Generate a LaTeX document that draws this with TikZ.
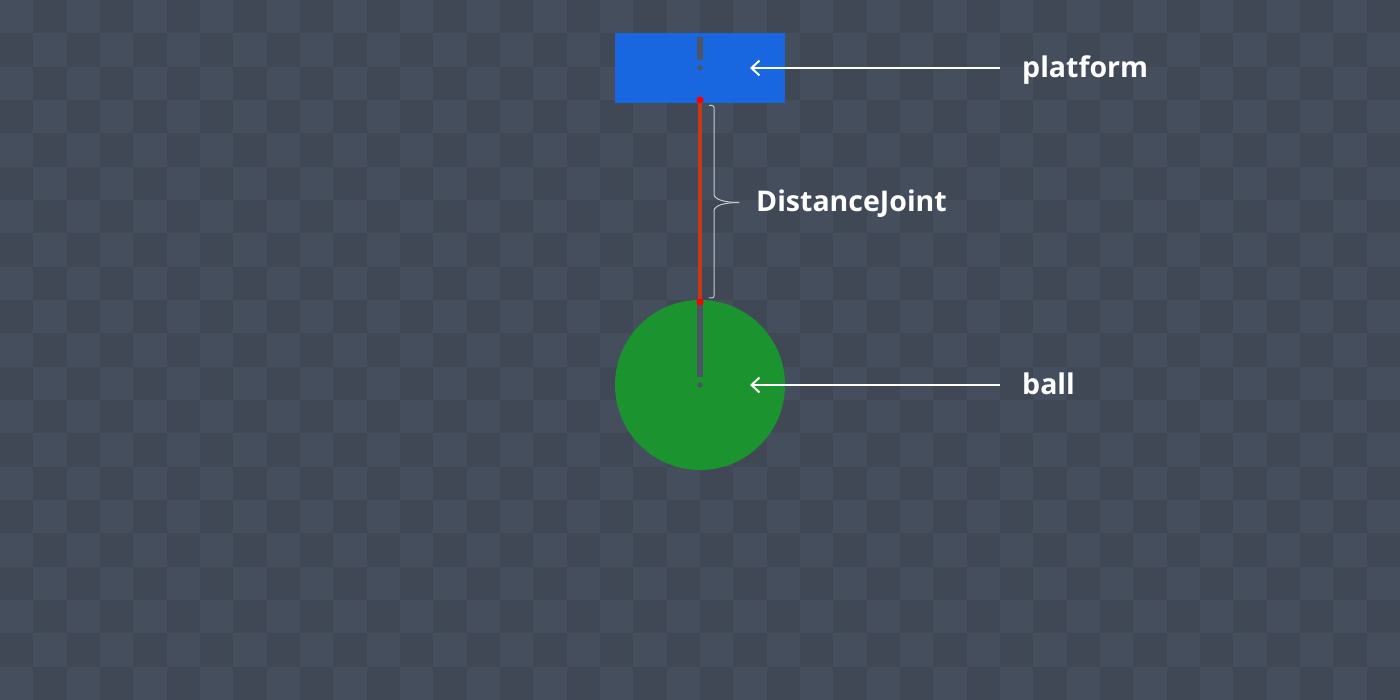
\documentclass[tikz,border=0pt]{standalone}
\usepackage{fontspec}
\newfontfamily\labelfont{Open Sans}
\usetikzlibrary{arrows.meta}

\definecolor{checklight}{RGB}{69,78,93}
\definecolor{checkdark}{RGB}{64,72,85}
\definecolor{platformblue}{RGB}{24,103,224}
\definecolor{ballgreen}{RGB}{27,148,48}
\definecolor{markergray}{RGB}{75,85,99}
\definecolor{jointred}{RGB}{200,58,22}
\definecolor{bracegray}{RGB}{200,204,210}

\begin{document}
\begin{tikzpicture}[x=1pt, y=-1pt,
		body/.style = {draw=none, inner sep=0pt},
		marker/.style = {fill=markergray},
		anchordot/.style = {fill=red},
		joint/.style = {draw=jointred, line width=3.5pt},
		bracket/.style = {draw=bracegray, line width=1pt, rounded corners=2pt},
		pointer/.style = {draw=white, line width=2pt, -{Straight Barb[length=8pt, width=15pt]}},
		caption/.style = {inner sep=0pt, anchor=base west, text=white, font=\labelfont\bfseries\fontsize{28.5}{34}\selectfont}]
		% checkerboard
		\fill[checklight] (0,0) rectangle (1400,700);
		\foreach \i in {0,...,41}
		\foreach \j in {0,...,20} {
			\pgfmathtruncatemacro{\odd}{mod(\i+\j,2)}
			\ifnum\odd=1
			\fill[checkdark] (\i*100/3,\j*100/3) rectangle ++(100/3,100/3);
			\fi
		}
		\useasboundingbox (0,0) rectangle (1400,700);

		\node [body, fill=platformblue, minimum width=170pt, minimum height=70pt] (platform) at (700,68) {};
		\node [body, fill=ballgreen, circle, minimum size=170pt] (ball) at (700,385) {};

		% centre markers
		\fill[marker] (697,37) rectangle (703,60);
		\fill[marker] (700,67.7) circle (2.7);
		\fill[marker] (697,302) rectangle (703,377);
		\fill[marker] (700,385) circle (2.7);

		\coordinate (jointtop) at (700,100);
		\coordinate (jointbottom) at (700,302);
		\draw[joint] (jointtop) -- (jointbottom);
		\fill[anchordot] (jointtop) circle (3.5);
		\fill[anchordot] (jointbottom) circle (3.5);

		\coordinate (bracetip) at (739,202.5);
		\draw[bracket] (709,105.5) -| (714,192) .. controls (714,200) and (726,202.5) .. (bracetip);
		\draw[bracket] (bracetip) .. controls (726,202.5) and (714,205) .. (714,213) |- (709,298);

		\node [caption] (platformlabel) at (1022,78) {platform};
		\node [caption] (jointlabel) at (756,212) {DistanceJoint};
		\node [caption] (balllabel) at (1022,395) {ball};

		\coordinate (platformtip) at (750,68);
		\coordinate (balltip) at (750,385);
		\draw[pointer, shorten <=22pt] (platformlabel.west |- platform) -- (platformtip);
		\draw[pointer, shorten <=22pt] (balllabel.west |- ball) -- (balltip);
	\end{tikzpicture}
\end{document}
